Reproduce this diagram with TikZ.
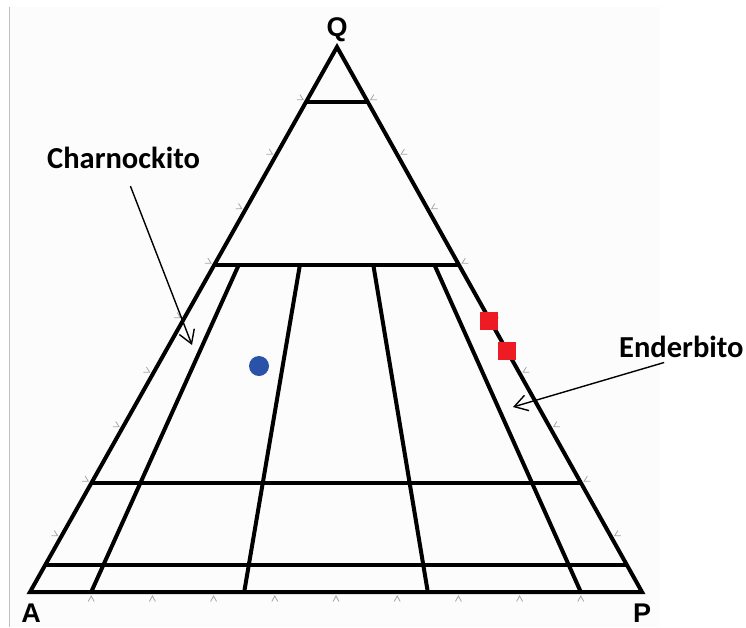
\documentclass[tikz,border=0pt]{standalone}
\usepackage{fontspec}
\usetikzlibrary{calc,arrows.meta}
\newfontfamily\labfont{Liberation Sans}
\newfontfamily\calfont{Carlito}
\definecolor{dotblue}{RGB}{42,82,168}
\definecolor{sqred}{RGB}{237,28,36}
\definecolor{paper}{RGB}{252,252,252}
\begin{document}
\begin{tikzpicture}[x=1pt,y=-1pt,
  frame/.style={line width=4pt, line join=miter},
  gridline/.style={line width=4pt},
  tickmark/.style={draw=gray!70, line width=0.8pt},
  ptr/.style={line width=1.4pt, -{Straight Barb[length=13pt,width=16pt,line width=1.4pt]}},
  vertexlab/.style={font=\labfont\bfseries\fontsize{27}{27}\selectfont, inner sep=0pt},
  rocklab/.style={font=\calfont\bfseries\fontsize{30.5}{30.5}\selectfont, inner sep=0pt},
  sample/.style={fill=sqred, minimum size=18pt, inner sep=0pt},
  dot/.style={circle, fill=dotblue, minimum size=20pt, inner sep=0pt}
]
\useasboundingbox (0,0) rectangle (746,627);
\fill[paper] (10,7) rectangle (660,627);
\draw[gray!50, line width=1pt] (9.5,7) -- (9.5,627);

\coordinate (A) at (30,592);
\coordinate (P) at (642,592);
\coordinate (Q) at (337,47);

% tick marks
\foreach \i in {1,...,9} {
  \coordinate (b\i) at ($(A)!\i/10!(P)$);
  \draw[tickmark] ($(b\i)+(-3,9.5)$) -- ($(b\i)+(0,4)$) -- ($(b\i)+(3,9.5)$);
  \coordinate (l\i) at ($(A)!\i/10!(Q)$);
  \draw[tickmark] ($(l\i)+(-6.37,-7.03)$) -- ($(l\i)+(-3.05,-1.72)$) -- ($(l\i)+(-9.31,-1.81)$);
  \coordinate (r\i) at ($(P)!\i/10!(Q)$);
  \draw[tickmark] ($(r\i)+(6.39,-7.02)$) -- ($(r\i)+(3.06,-1.71)$) -- ($(r\i)+(9.31,-1.78)$);
}

% outer triangle
\draw[frame] (Q) -- (A) -- (P) -- cycle;

% horizontal lines (Q = 90, 60, 20, 5)
\foreach \q/\nm in {0.1/h90, 0.4/h60, 0.8/h20, 0.95/h5} {
  \coordinate (\nm L) at ($(Q)!\q!(A)$);
  \coordinate (\nm R) at ($(Q)!\q!(P)$);
  \draw[gridline] (\nm L) -- (\nm R);
}

% radial lines (P/(A+P) = 10, 35, 65, 90)
\foreach \p/\nm in {0.10/v10, 0.35/v35, 0.65/v65, 0.90/v90} {
  \coordinate (\nm B) at ($(A)!\p!(P)$);
  \coordinate (\nm T) at ($(Q)!0.4!(\nm B)$);
  \draw[gridline] (\nm T) -- (\nm B);
}

% vertex labels
\node[vertexlab, anchor=base] (lq) at (337,36) {Q};
\node[vertexlab, anchor=base] (la) at (31,622) {A};
\node[vertexlab, anchor=base] (lp) at (642,622) {P};

% samples
\node[sample] (s1) at (489,321) {};
\node[sample] (s2) at (507,351) {};
\node[dot] (d1) at (259,366) {};

% rock labels and pointers
\node[rocklab, anchor=base west] (charn) at (47,168) {Charnockito};
\node[rocklab, anchor=base west] (ender) at (619,357) {Enderbito};
\coordinate (ctip) at (192,345);
\coordinate (etip) at (513,407);
\draw[ptr, shorten <=19pt] (charn.south) -- (ctip);
\draw[ptr, shorten <=18pt] (ender.south) -- (etip);
\end{tikzpicture}
\end{document}
